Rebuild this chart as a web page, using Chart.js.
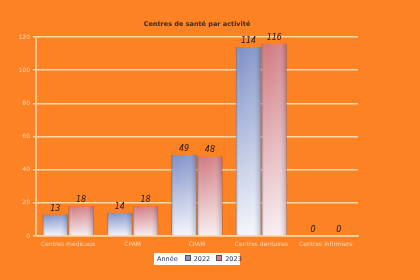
<!DOCTYPE html>
<html>
<head>
<meta charset="utf-8">
<script src="https://cdn.jsdelivr.net/npm/chart.js@4.4.1/dist/chart.umd.min.js"></script>
<style>
  html, body { margin: 0; padding: 0; background: #fd8224; }
  #wrap { position: relative; width: 420px; height: 280px; }
  #legend {
    position: absolute; left: 154px; top: 253px; width: 86px; height: 12px;
    background: #fff; font: 6.5px "DejaVu Sans", sans-serif; color: #1a2a5a;
    white-space: nowrap; box-sizing: border-box; padding-left: 3px; line-height: 12px;
  }
  #legend .sw {
    display: inline-block; width: 4px; height: 4px; border: 1px solid #555;
    margin: 0 3px 0 7px; vertical-align: 0px;
  }
</style>
</head>
<body>
<div id="wrap">
  <canvas id="chart" width="420" height="280"></canvas>
  <div id="legend"><span>Année</span><span class="sw" style="background:#8595c8"></span><span>2022</span><span class="sw" style="background:#c9848a;margin-left:6px"></span><span>2023</span></div>
</div>
<script>
// données
const categories = ["Centres médicaux", "CPAM", "CPAM", "Centres dentaires", "Centres infirmiers"];
const values2022 = [13, 14, 49, 114, 0];
const values2023 = [18, 18, 48, 116, 0];
const yTicks = [0, 20, 40, 60, 80, 100, 120];

function barGradient(top, bottom) {
  return function (context) {
    const chart = context.chart;
    const area = chart.chartArea;
    if (!area || context.type !== "data") return top;
    const y = chart.scales.y;
    const y0 = y.getPixelForValue(context.raw);
    const y1 = y.getPixelForValue(0);
    const g = chart.ctx.createLinearGradient(0, y0, 0, Math.max(y1, y0 + 1));
    g.addColorStop(0, top);
    g.addColorStop(1, bottom);
    return g;
  };
}

// ombrage cylindrique + étiquettes
const barDeco = {
  id: "barDeco",
  afterDatasetsDraw(chart) {
    const ctx = chart.ctx;
    chart.data.datasets.forEach((ds, i) => {
      chart.getDatasetMeta(i).data.forEach((bar, j) => {
        const left = bar.x - bar.width / 2;
        const right = bar.x + bar.width / 2;
        const h = bar.base - bar.y;
        if (h > 1) {
          const g = ctx.createLinearGradient(left, 0, right, 0);
          g.addColorStop(0, "rgba(60,60,90,0.35)");
          g.addColorStop(0.15, "rgba(255,255,255,0.0)");
          g.addColorStop(0.7, "rgba(255,255,255,0.1)");
          g.addColorStop(1, "rgba(60,60,90,0.3)");
          ctx.fillStyle = g;
          ctx.fillRect(left, bar.y, bar.width, h);
        }
        ctx.save();
        ctx.font = "italic 8px 'DejaVu Sans', sans-serif";
        ctx.fillStyle = "#1a1a1a";
        ctx.textAlign = "center";
        ctx.textBaseline = "bottom";
        ctx.fillText(ds.data[j], bar.x, bar.y - 2);
        ctx.restore();
      });
    });
    ctx.save();
    ctx.font = "bold 6.5px 'DejaVu Sans', sans-serif";
    ctx.fillStyle = "#3a2a1a";
    ctx.textAlign = "center";
    ctx.fillText("Centres de santé par activité", 197, 26);
    ctx.restore();
  },
};

new Chart(document.getElementById("chart"), {
  type: "bar",
  data: {
    labels: categories,
    datasets: [
      {
        label: "2022",
        data: values2022,
        backgroundColor: barGradient("#7d8fc6", "#f4f6fc"),
        borderColor: "rgba(90,100,150,0.6)",
        borderWidth: 0.5,
      },
      {
        label: "2023",
        data: values2023,
        backgroundColor: barGradient("#d0787f", "#f8eef0"),
        borderColor: "rgba(150,90,100,0.6)",
        borderWidth: 0.5,
      },
    ],
  },
  options: {
    responsive: false,
    animation: false,
    layout: { padding: { top: 37, right: 62, left: 0, bottom: 0 } },
    plugins: { legend: { display: false }, tooltip: { enabled: false } },
    datasets: { bar: { categoryPercentage: 0.8, barPercentage: 0.98 } },
    scales: {
      x: {
        afterFit: (s) => { s.height = 44; },
        grid: { display: false, drawTicks: false },
        border: { color: "#ffd9a8", width: 1.5 },
        ticks: { color: "#fbd6b4", font: { size: 6, family: "DejaVu Sans" }, padding: 5, maxRotation: 0, autoSkip: false },
      },
      y: {
        min: 0,
        max: 120,
        afterFit: (s) => { s.width = 36; },
        afterBuildTicks: (s) => { s.ticks = yTicks.map((v) => ({ value: v })); },
        grid: { color: "#ffd9a8", lineWidth: 1.5, drawTicks: true, tickLength: 3 },
        border: { color: "#ffc48a", width: 2 },
        ticks: { color: "#fbd6b4", font: { size: 6, family: "DejaVu Sans" }, padding: 3 },
      },
    },
  },
  plugins: [barDeco],
});
</script>
</body>
</html>
